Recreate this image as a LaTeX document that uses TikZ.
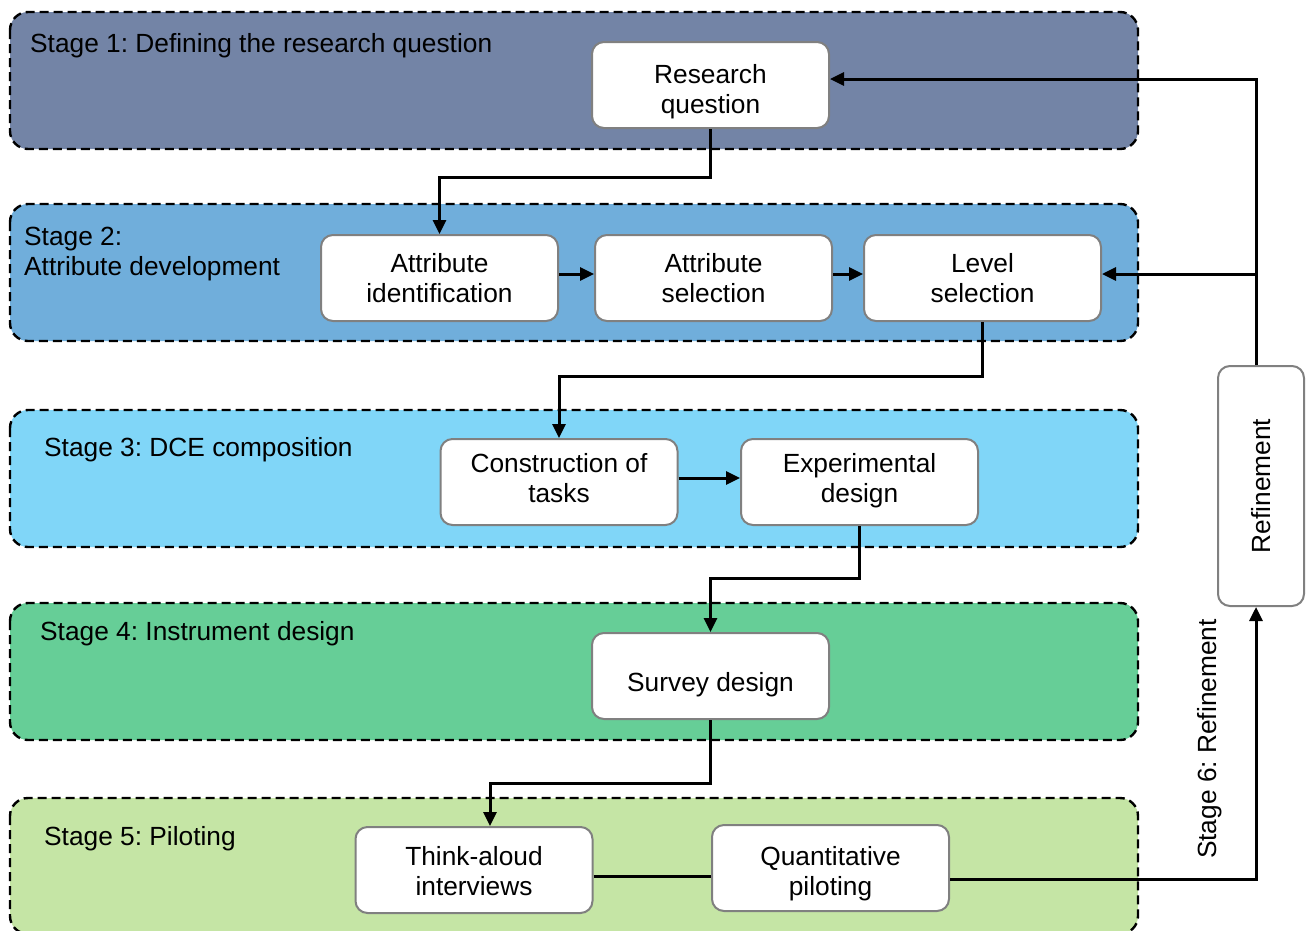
\documentclass[tikz,border=0pt]{standalone}
\usepackage{fontspec}
\setmainfont{Liberation Sans}
\usetikzlibrary{arrows.meta}
\frenchspacing

% stage band fills
\definecolor{stageone}{RGB}{115,132,166}
\definecolor{stagetwo}{RGB}{112,174,219}
\definecolor{stagethree}{RGB}{128,214,248}
\definecolor{stagefour}{RGB}{102,206,151}
\definecolor{stagefive}{RGB}{197,229,165}
\definecolor{boxline}{RGB}{128,128,128}

% two-line step text; #1 = strut height above the first baseline (pt)
\newcommand{\steptext}[3]{\rule{0pt}{#1pt}#2\\#3\rule[-12pt]{0pt}{12pt}}

\begin{document}
\begin{tikzpicture}[x=1pt,y=-1pt,
  band/.style={draw=black, line width=2.4pt, dash pattern=on 9pt off 5pt, rounded corners=18pt},
  stepbox/.style={draw=boxline, fill=white, line width=2pt, rounded corners=12pt,
    minimum width=237pt, minimum height=86pt, align=center, inner sep=0pt,
    font=\fontsize{26.3}{30}\selectfont},
  stagelabel/.style={anchor=base west, inner sep=0pt, font=\fontsize{26.3}{30}\selectfont},
  flow/.style={line width=3pt, -{Triangle[length=14pt,width=13pt]}},
  link/.style={line width=3pt}]

\useasboundingbox (0,0) rectangle (1309,930);
\clip (0,0) rectangle (1309,930);

% stage bands
\draw[band, fill=stageone]   (10,12)  rectangle (1138,149);
\draw[band, fill=stagetwo]   (10,204) rectangle (1138,341);
\draw[band, fill=stagethree] (10,410) rectangle (1138,547);
\draw[band, fill=stagefour]  (10,603) rectangle (1138,740);
\draw[band, fill=stagefive]  (10,798) rectangle (1138,934);

% stage titles
\node[stagelabel] (s1)  at (30,52)  {Stage 1: Defining the research question};
\node[stagelabel] (s2a) at (24,245) {Stage 2:};
\node[stagelabel] (s2b) at (24,275) {Attribute development};
\node[stagelabel] (s3)  at (44,456) {Stage 3: DCE composition};
\node[stagelabel] (s4)  at (40,640) {Stage 4: Instrument design};
\node[stagelabel] (s5)  at (44,845) {Stage 5: Piloting};
\node[rotate=90, anchor=base, inner sep=0pt, font=\fontsize{26.3}{30}\selectfont]
  (s6) at (1216,739) {Stage 6: Refinement};

% process steps
\node[stepbox] (rq) at (710.5,85)  {\steptext{38}{Research}{question}};
\node[stepbox] (ai) at (439.5,278) {\steptext{30}{Attribute}{identification}};
\node[stepbox] (as) at (713.5,278) {\steptext{30}{Attribute}{selection}};
\node[stepbox] (ls) at (982.5,278) {\steptext{30}{Level}{selection}};
\node[stepbox] (ct) at (559,482)   {\steptext{22}{Construction of}{tasks}};
\node[stepbox] (ed) at (859.5,482) {\steptext{22}{Experimental}{design}};
\node[stepbox, text height=30pt, text depth=0pt] (sd) at (710.5,676) {Survey design};
\node[stepbox] (ta) at (474,870)   {\steptext{32}{Think-aloud}{interviews}};
\node[stepbox] (qp) at (830.5,868) {\steptext{36}{Quantitative}{piloting}};
\node[stepbox, rotate=90, minimum width=240pt] (rf) at (1261,486) {Refinement};

% routing levels
\coordinate (k1) at (0,177);
\coordinate (r1) at (0,79);
\coordinate (r2) at (0,274);
\coordinate (k2) at (0,376);
\coordinate (r3) at (0,478);
\coordinate (k3) at (0,578);
\coordinate (k4) at (0,783);
\coordinate (r5) at (0,876);
\coordinate (r6) at (0,879);
\coordinate (rx) at (1256,0);

% forward flow
\draw[flow] (rq.south) -- (rq.south |- k1) -| (ai.north);
\draw[flow] (ai.east |- r2) -- (as.west |- r2);
\draw[flow] (as.east |- r2) -- (ls.west |- r2);
\draw[flow] (ls.south) -- (ls.south |- k2) -| (ct.north);
\draw[flow] (ct.east |- r3) -- (ed.west |- r3);
\draw[flow] (ed.south) -- (ed.south |- k3) -| (sd.north);
\draw[flow] (sd.south) -- (sd.south |- k4) -| ([xshift=16pt]ta.north);
\draw[link] (ta.east |- r5) -- (qp.west |- r5);

% refinement loop
\draw[flow] (qp.east |- r6) -| (rf.west -| rx);
\draw[flow] (rf.east -| rx) |- (rq.east |- r1);
\draw[flow] (rx |- r2) -- (ls.east |- r2);

\end{tikzpicture}
\end{document}
